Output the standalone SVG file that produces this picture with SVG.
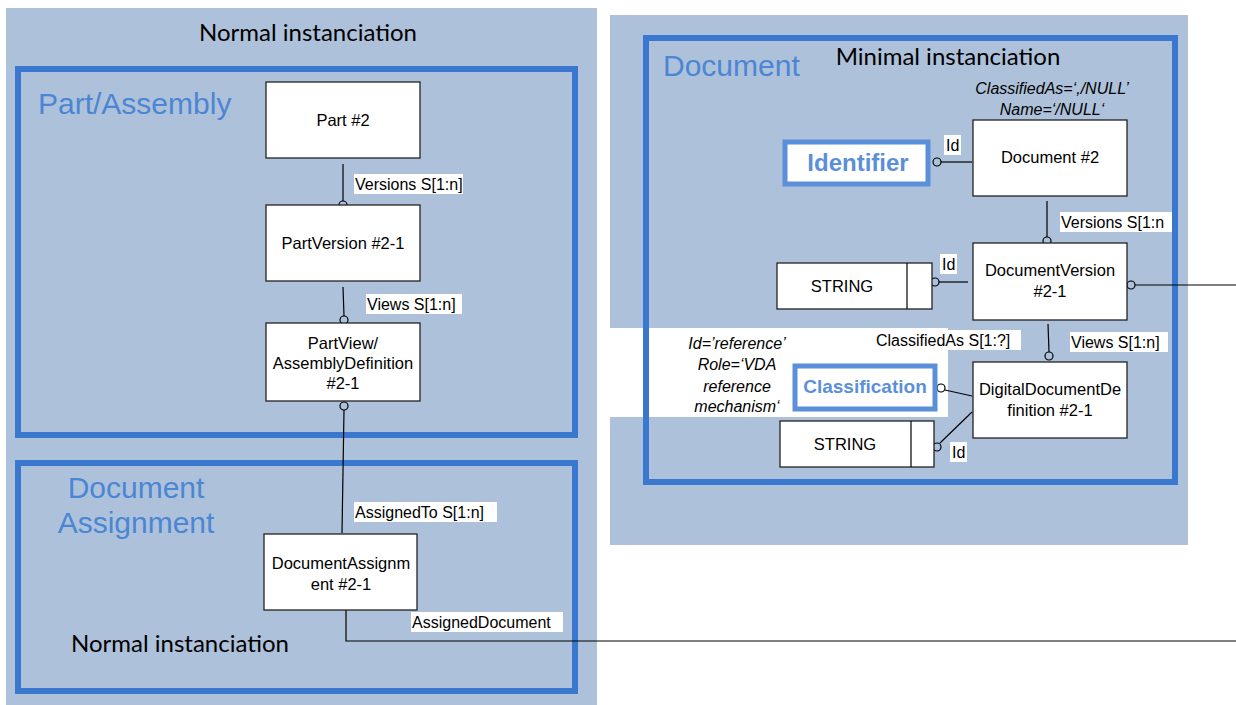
<svg xmlns="http://www.w3.org/2000/svg" width="1236" height="705" viewBox="0 0 1236 705">
<style>
.bg{fill:#aec1da}
.frame{fill:none;stroke:#3a78d0;stroke-width:6}
.node{fill:#fff;stroke:#222;stroke-width:1.3}
.t{font-family:"Liberation Sans",Arial,sans-serif;font-size:16.5px;fill:#000;text-anchor:middle}
.lbl{font-family:"Liberation Sans",Arial,sans-serif;font-size:16px;fill:#000}
.lblbg{fill:#fff}
.title{font-family:Lato,"Open Sans",sans-serif;font-size:24px;fill:#000}
.big{font-family:"Liberation Sans",Arial,sans-serif;font-size:30px;fill:#4a86d4}
.it{font-family:"Liberation Sans",Arial,sans-serif;font-size:16px;font-style:italic;fill:#000;text-anchor:middle}
.line{fill:none;stroke:#000;stroke-width:1.2}
.dot{fill:none;stroke:#000;stroke-width:1.2}
.tag{fill:#fff;stroke:#5b8fd9;stroke-width:5}
.tagt{font-family:"Liberation Sans",Arial,sans-serif;font-weight:bold;fill:#5b8fd9;text-anchor:middle}
</style>
<rect width="1236" height="705" fill="#fff"/>
<!-- panels -->
<rect class="bg" x="6" y="8" width="591" height="697"/>
<rect class="bg" x="610" y="15" width="578" height="530"/>
<rect fill="#fff" x="610" y="328" width="338" height="89"/>
<text class="title" x="308" y="41" text-anchor="middle">Normal instanciation</text>
<g id="frame-part">
<rect class="frame" x="18" y="69" width="557" height="366"/>
<text class="big" x="38" y="114">Part/Assembly</text>
</g>
<g id="frame-docassign">
<rect class="frame" x="18" y="463" width="557" height="228"/>
<text class="big" x="136" y="498" text-anchor="middle">Document</text>
<text class="big" x="136" y="533" text-anchor="middle">Assignment</text>
<text class="title" x="180" y="652" text-anchor="middle">Normal instanciation</text>
</g>
<g id="frame-doc">
<rect class="frame" x="646" y="38" width="529" height="444"/>
<text class="big" x="663" y="76">Document</text>
<text class="title" x="948" y="65" text-anchor="middle">Minimal instanciation</text>
<text class="it" x="1052" y="94">ClassifiedAs=‘,/NULL’</text>
<text class="it" x="1052" y="115">Name=‘/NULL‘</text>
<text class="it" x="737" y="349">Id=’reference’</text>
<text class="it" x="737" y="370">Role=‘VDA</text>
<text class="it" x="737" y="392">reference</text>
<text class="it" x="737" y="412">mechanism‘</text>
</g>
<!-- connectors -->
<g id="connectors">
<line class="line" x1="343" y1="164" x2="343" y2="201"/>
<circle class="dot" cx="343" cy="205" r="4"/>
<line class="line" x1="343" y1="287" x2="344" y2="316"/>
<circle class="dot" cx="344" cy="320" r="4"/>
<circle class="dot" cx="344" cy="406" r="4"/>
<line class="line" x1="344" y1="410" x2="342" y2="533"/>
<polyline class="line" points="346,610 346,641 1236,641"/>
<circle class="dot" cx="937" cy="162" r="4"/>
<line class="line" x1="941" y1="162" x2="972" y2="162"/>
<line class="line" x1="1047" y1="201" x2="1047" y2="237"/>
<circle class="dot" cx="1047" cy="241" r="4"/>
<circle class="dot" cx="1131" cy="285" r="4"/>
<line class="line" x1="1135" y1="285" x2="1236" y2="285"/>
<circle class="dot" cx="935" cy="282" r="4"/>
<line class="line" x1="939" y1="282" x2="968" y2="282"/>
<line class="line" x1="1048" y1="324" x2="1049" y2="352"/>
<circle class="dot" cx="1049" cy="356" r="4"/>
<circle class="dot" cx="941" cy="388" r="4"/>
<line class="line" x1="945" y1="390" x2="972" y2="396" stroke-width="1.6"/>
<circle class="dot" cx="937" cy="447" r="4"/>
<line class="line" x1="940" y1="443" x2="972" y2="412" stroke-width="1.4"/>
<!-- labels -->
<rect class="lblbg" x="354" y="174" width="109" height="20"/>
<text class="lbl" x="355" y="190">Versions S[1:n]</text>
<rect class="lblbg" x="366" y="294" width="96" height="20"/>
<text class="lbl" x="367" y="310">Views S[1:n]</text>
<rect class="lblbg" x="354" y="502" width="143" height="20"/>
<text class="lbl" x="355" y="518">AssignedTo S[1:n]</text>
<rect class="lblbg" x="411" y="612" width="152" height="20"/>
<text class="lbl" x="412" y="628">AssignedDocument</text>
<rect class="lblbg" x="944" y="135" width="17" height="20"/>
<text class="lbl" x="946" y="151">Id</text>
<rect class="lblbg" x="1060" y="212" width="112" height="20"/>
<text class="lbl" x="1061" y="228">Versions S[1:n</text>
<rect class="lblbg" x="940" y="254" width="17" height="20"/>
<text class="lbl" x="942" y="270">Id</text>
<rect class="lblbg" x="875" y="330" width="146" height="20"/>
<text class="lbl" x="876" y="346">ClassifiedAs S[1:?]</text>
<rect class="lblbg" x="1070" y="332" width="98" height="20"/>
<text class="lbl" x="1071" y="348">Views S[1:n]</text>
<rect class="lblbg" x="950" y="442" width="17" height="20"/>
<text class="lbl" x="952" y="458">Id</text>
</g>
<!-- nodes -->
<g id="part2"><rect class="node" x="266" y="82" width="154" height="76"/><text class="t" x="343" y="126">Part #2</text></g>
<g id="partversion"><rect class="node" x="266" y="205" width="154" height="76"/><text class="t" x="343" y="249">PartVersion #2-1</text></g>
<g id="partview"><rect class="node" x="266" y="323" width="154" height="78"/><text class="t" x="343" y="349">PartView/</text><text class="t" x="343" y="369">AssemblyDefinition</text><text class="t" x="343" y="389">#2-1</text></g>
<g id="docassign"><rect class="node" x="264" y="534" width="153" height="76"/><text class="t" x="341" y="569">DocumentAssignm</text><text class="t" x="341" y="590">ent #2-1</text></g>
<g id="document2"><rect class="node" x="973" y="120" width="154" height="76"/><text class="t" x="1050" y="163">Document #2</text></g>
<g id="docversion"><rect class="node" x="973" y="243" width="154" height="77"/><text class="t" x="1050" y="276">DocumentVersion</text><text class="t" x="1050" y="297">#2-1</text></g>
<g id="digitaldoc"><rect class="node" x="973" y="362" width="154" height="76"/><text class="t" x="1050" y="395">DigitalDocumentDe</text><text class="t" x="1050" y="416">finition #2-1</text></g>
<g id="string1"><rect class="node" x="777" y="263" width="155" height="46"/><line class="line" x1="907" y1="263" x2="907" y2="309"/><text class="t" x="842" y="292" font-size="17">STRING</text></g>
<g id="string2"><rect class="node" x="780" y="421" width="154" height="46"/><line class="line" x1="911" y1="421" x2="911" y2="467"/><text class="t" x="845" y="450" font-size="17">STRING</text></g>
<g id="identifier"><rect class="tag" x="785" y="142" width="143" height="42"/><text class="tagt" x="858" y="171" font-size="24">Identifier</text></g>
<g id="classification"><rect class="tag" x="795" y="366" width="140" height="43"/><text class="tagt" x="865" y="393" font-size="19">Classification</text></g>
</svg>
